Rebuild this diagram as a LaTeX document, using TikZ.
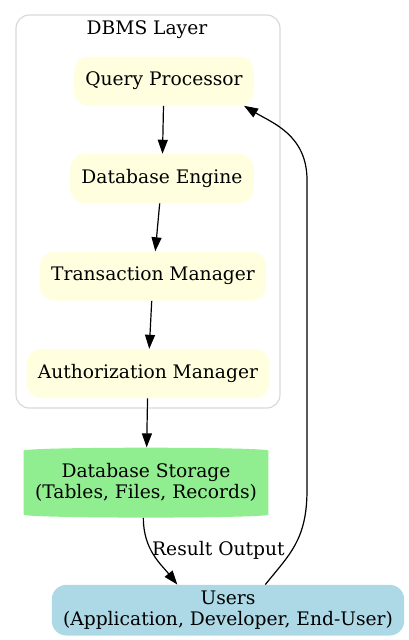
\documentclass[tikz,border=0pt]{standalone}
\usepackage{fontspec}
\setmainfont{DejaVu Serif}
\usepackage{xcolor}
\usepackage{tikz}
\usetikzlibrary{positioning}
\usetikzlibrary{backgrounds}
\usetikzlibrary{arrows.meta}

\definecolor{compyellow}{HTML}{FFFFE0}
\definecolor{storegreen}{HTML}{90EE90}
\definecolor{userblue}{HTML}{ADD8E6}
\definecolor{clustergray}{HTML}{D9D9D9}

\begin{document}
\begin{tikzpicture}[
      x=0.75pt, y=-0.75pt,
      node distance=36pt,
      font=\fontsize{14}{16}\selectfont,
      comp/.style={fill=compyellow,rounded corners=11pt,inner xsep=8.5pt,minimum height=36.75pt,align=center},
      store/.style={inner xsep=8.5pt,minimum height=52.5pt,align=center},
      user/.style={fill=userblue,rounded corners=11pt,inner xsep=8.5pt,inner ysep=2pt,minimum height=38pt,align=center},
      cluster/.style={draw=clustergray,line width=0.9pt,rounded corners=10pt},
      edge/.style={-{Triangle[length=10.5pt,width=7.5pt]},line width=0.9pt}
      ]
      \useasboundingbox (0,0) rectangle (409,640);

      \draw[cluster] (16,15) rectangle (280,408);
      \node (dbmslabel) at (147,30) {DBMS Layer};

      \node[comp] (qp) at (164,81) {Query Processor};
      \node[comp, below=of qp, xshift=-1.5pt] (de) {Database Engine};
      \node[comp, below=of de, xshift=-6.75pt] (tm) {Transaction Manager};
      \node[comp, below=of tm, xshift=-3.75pt] (am) {Authorization Manager};

      \node[store, below=36.75pt of am, xshift=-1.5pt] (ds) {Database Storage\\(Tables, Files, Records)};
      \node[user, below=50pt of ds, xshift=61.5pt] (users) {Users\\(Application, Developer, End-User)};

      \begin{scope}[on background layer]
        \fill[storegreen] ([yshift=-2.5pt]ds.north west) .. controls +(0,-4) and +(0,-4) .. ([yshift=-2.5pt]ds.north east)
          -- ([yshift=2.5pt]ds.south east) .. controls +(0,4) and +(0,4) .. ([yshift=2.5pt]ds.south west) -- cycle;
      \end{scope}

      \path (qp) edge[edge] (de)
      (de) edge[edge] (tm)
      (tm) edge[edge] (am)
      (am) edge[edge] (ds)
      ;
      \draw[edge] ([xshift=-2pt]ds.south) .. controls +(0,32) and +(-16,-20) .. node[anchor=west, pos=0.45, xshift=-4pt, yshift=1.5pt] (resultlabel) {Result Output} ([xshift=-38pt]users.north);
      \draw[edge] ([xshift=28pt]users.north) .. controls +(24,-30) and +(0,50) .. (307,490) -- (307,180) .. controls +(0,-45) and +(28,17) .. ([xshift=60pt]qp.south);
\end{tikzpicture}
\end{document}
